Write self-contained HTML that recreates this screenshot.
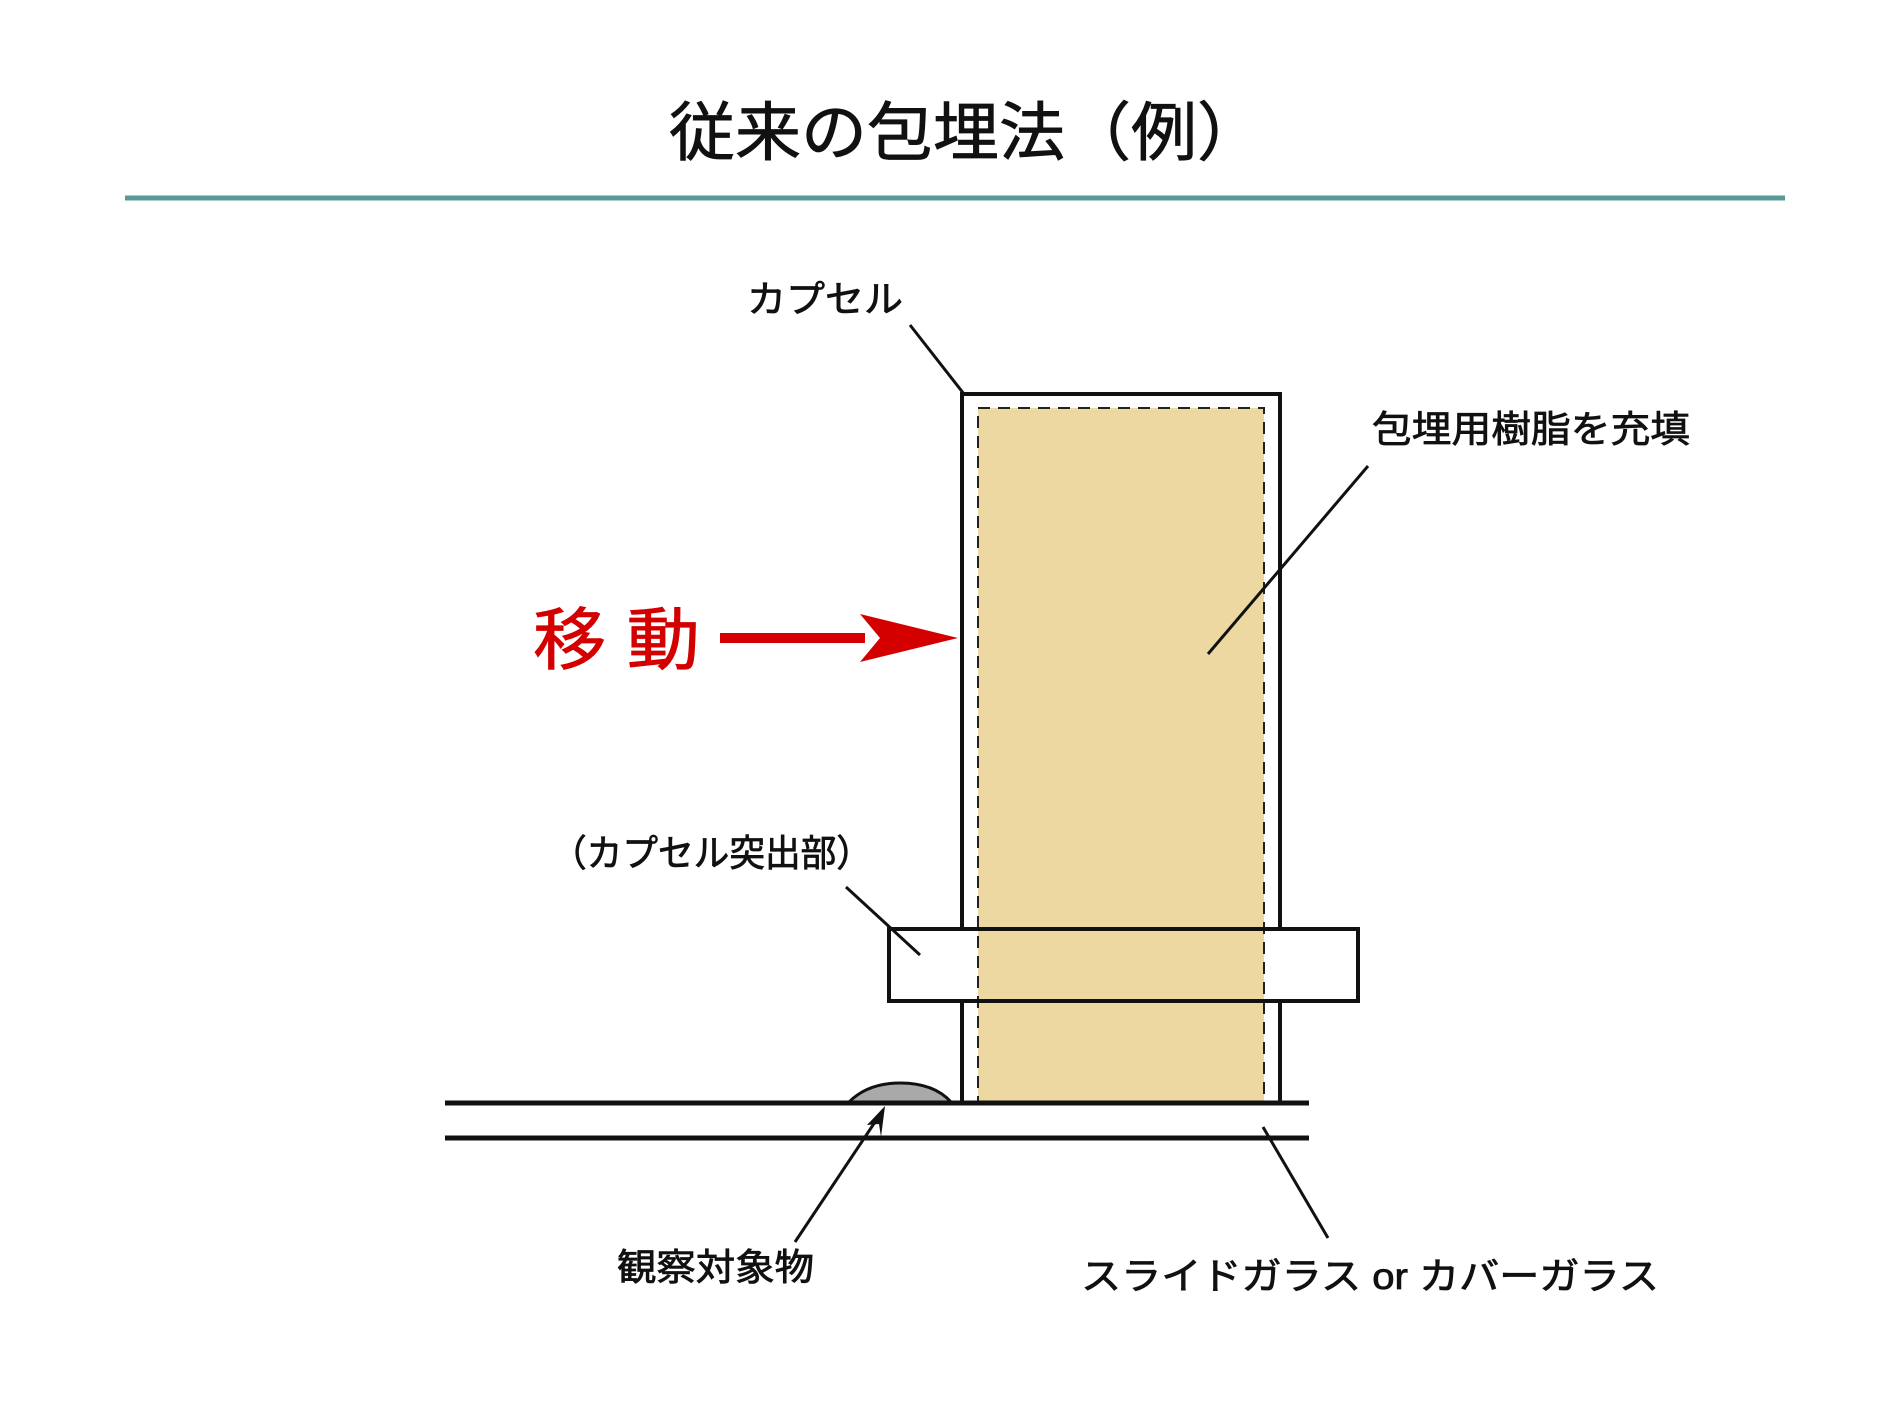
<!DOCTYPE html>
<html><head><meta charset="utf-8"><style>
html,body{margin:0;padding:0;background:#fff;}
svg{display:block}
text{font-family:"Liberation Sans","Noto Sans CJK JP",sans-serif;font-weight:normal;stroke-width:0.8;}
</style></head><body>
<svg width="1890" height="1417" viewBox="0 0 1890 1417" xmlns="http://www.w3.org/2000/svg">
<rect width="1890" height="1417" fill="#fff"/>
<text x="966" y="155" font-size="64" text-anchor="middle" fill="#111" stroke="#111" stroke-width="1.2" textLength="594" lengthAdjust="spacingAndGlyphs">従来の包埋法（例）</text>
<line x1="125" y1="198" x2="1785" y2="198" stroke="#5a9a96" stroke-width="5"/>

<rect x="978" y="408" width="286" height="694" fill="#ecd8a0"/>
<rect x="978" y="408" width="286" height="694" fill="none" stroke="#222" stroke-width="2" stroke-dasharray="12,8"/>
<polyline points="962,1102 962,394 1280,394 1280,1102" fill="none" stroke="#111" stroke-width="4"/>
<rect x="889" y="929" width="469" height="72" fill="none" stroke="#111" stroke-width="4"/>
<rect x="891" y="931" width="86" height="68" fill="#fff"/>
<rect x="1265" y="931" width="91" height="68" fill="#fff"/>

<path d="M849,1102 Q868,1083 900,1083 Q934,1083 951,1102 Z" fill="#a9a9a9" stroke="#111" stroke-width="3"/>
<line x1="445" y1="1103" x2="1309" y2="1103" stroke="#111" stroke-width="5"/>
<line x1="445" y1="1138" x2="1309" y2="1138" stroke="#111" stroke-width="5"/>

<line x1="910" y1="325" x2="964" y2="394" stroke="#111" stroke-width="3"/>
<line x1="1368" y1="466" x2="1208" y2="654" stroke="#111" stroke-width="3"/>
<line x1="846" y1="887" x2="920" y2="955" stroke="#111" stroke-width="3"/>
<line x1="795" y1="1242" x2="879" y2="1116" stroke="#111" stroke-width="3"/>
<polygon points="885,1106 867,1125 879,1124 881,1137" fill="#111"/>
<line x1="1328" y1="1238" x2="1263" y2="1127" stroke="#111" stroke-width="3"/>

<g fill="#111" stroke="#111" font-size="37">
<text x="747" y="312" textLength="156" lengthAdjust="spacingAndGlyphs">カプセル</text>
<text x="1372" y="442" textLength="318" lengthAdjust="spacingAndGlyphs">包埋用樹脂を充填</text>
<text x="551" y="866" textLength="321" lengthAdjust="spacingAndGlyphs">（カプセル突出部）</text>
<text x="617" y="1280" textLength="197" lengthAdjust="spacingAndGlyphs">観察対象物</text>
<text x="1081" y="1289" textLength="578" lengthAdjust="spacingAndGlyphs">スライドガラス or カバーガラス</text>
</g>

<text x="533" y="664" font-size="68" fill="#d40000" stroke="#d40000" stroke-width="1.2" textLength="167" lengthAdjust="spacingAndGlyphs">移 動</text>
<rect x="720" y="633" width="145" height="10" fill="#d40000"/>
<polygon points="958,638 860,614 880,638 860,662" fill="#d40000"/>
</svg>
</body></html>
